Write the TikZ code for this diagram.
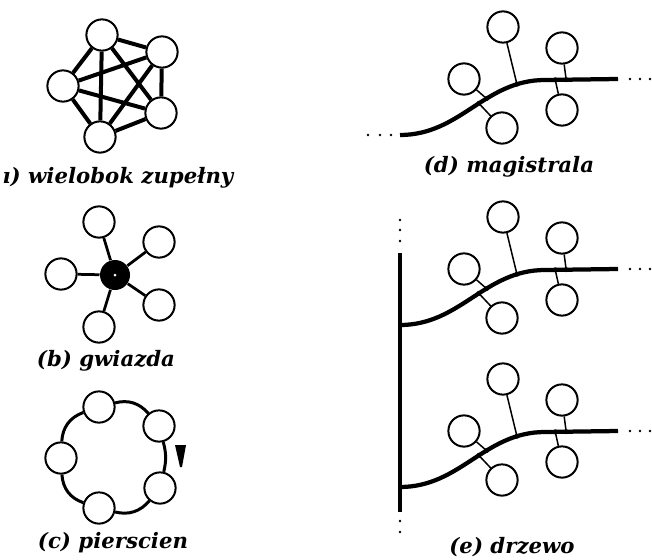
\documentclass[tikz,border=0pt]{standalone}
\usepackage{fontspec}
\setmainfont{DejaVu Serif}
\usepackage{tikz}

\begin{document}
\begin{tikzpicture}[x=0.4pt,y=-0.4pt,
    station/.style={draw,circle,line width=0.8pt,fill=white,minimum size=12.5pt,
                    inner sep=0pt},
    link/.style={line width=1.6pt},
    spoke/.style={line width=1.1pt},
    ring/.style={line width=1.2pt},
    stub/.style={line width=0.6pt},
    bus/.style={line width=1.7pt},
    caption/.style={font=\fontsize{8.5}{10}\selectfont\bfseries\itshape}]
    \useasboundingbox (0,0) rectangle (652,559);
    % (a) complete polygon
    \node[station] (a1) at (102,35) {};
    \node[station] (a2) at (162,52) {};
    \node[station] (a3) at (161,113) {};
    \node[station] (a4) at (100,137) {};
    \node[station] (a5) at (63,86) {};
    \foreach \i/\j in {1/2,1/3,1/4,1/5,2/3,2/4,2/5,3/4,3/5,4/5}
        \draw[link] (a\i) -- (a\j);
    \node[caption] (capa) at (118,178) {ı) wielobok zupełny};
    % (b) star
    \node[circle,fill=black,minimum size=12pt,inner sep=0pt] (hub) at (115,275) {};
    \fill[white] (hub.center) circle (0.6pt);
    \node[station] (b1) at (99,222) {};
    \node[station] (b2) at (159,242) {};
    \node[station] (b3) at (159,305) {};
    \node[station] (b4) at (99,327) {};
    \node[station] (b5) at (61,274) {};
    \foreach \i in {1,...,5}
        \draw[spoke] (hub) -- (b\i);
    \node[caption] (capb) at (106,361) {(b) gwiazda};
    % (c) ring
    \node[station] (c1) at (99,407) {};
    \node[station] (c2) at (159,426) {};
    \node[station] (c3) at (160,488) {};
    \node[station] (c4) at (99,508) {};
    \node[station] (c5) at (61,458) {};
    \draw[ring] (c1) to[bend left=32] (c2) (c2) to[bend left=14] (c3)
        (c3) to[bend left=32] (c4) (c4) to[bend left=34] (c5)
        (c5) to[bend left=34] (c1);
    \fill (175,445) -- (186,445) -- (182,467) -- (180,467) -- cycle;
    \node[caption] (capc) at (113,543) {(c) pierscien};
    % (d), (e) bus lines with stations
    \foreach \n/\dy in {d/0,e/190,f/352} {
        \coordinate (\n-start) at (400,135+\dy);
        \coordinate (\n-bend) at (545,80+\dy);
        \coordinate (\n-end) at (618,79+\dy);
        \node[station] (\n-top) at (503,27+\dy) {};
        \node[station] (\n-left) at (464,79+\dy) {};
        \node[station] (\n-bot) at (502,128+\dy) {};
        \node[station] (\n-rtop) at (562,48+\dy) {};
        \node[station] (\n-rbot) at (562,110+\dy) {};
        \draw[bus] (\n-start) to[out=0,in=180] coordinate[pos=0.55] (\n-j1)
            coordinate[pos=0.61] (\n-j2) coordinate[pos=0.83] (\n-j3) (\n-bend)
            -- coordinate[pos=0.14] (\n-j4) coordinate[pos=0.29] (\n-j5) (\n-end);
        \draw[stub] (\n-bot) -- (\n-j1);
        \draw[stub] (\n-left) -- (\n-j2);
        \draw[stub] (\n-top) -- (\n-j3);
        \draw[stub] (\n-rbot) -- (\n-j4);
        \draw[stub] (\n-rtop) -- (\n-j5);
        \foreach \j in {1,...,5}
            \fill (\n-j\j) circle (1pt);
        \foreach \k in {12,22,32}
            \fill ([xshift=\k*0.4pt]\n-end) circle (0.55pt);
    }
    \foreach \k in {9,20,32}
        \fill ([xshift=-\k*0.4pt]d-start) circle (0.55pt);
    \node[caption] (capd) at (509,167) {(d) magistrala};
    % trunk of the tree
    \coordinate (trunk-top) at (400,253);
    \coordinate (trunk-bot) at (400,512);
    \draw[bus] (trunk-top) -- (trunk-bot);
    \foreach \k in {12,23,33}
        \fill ([yshift=\k*0.4pt]trunk-top) circle (0.55pt);
    \foreach \k in {9,20}
        \fill ([yshift=-\k*0.4pt]trunk-bot) circle (0.55pt);
    \node[caption] (cape) at (512,547) {(e) drzewo};
\end{tikzpicture}
\end{document}
